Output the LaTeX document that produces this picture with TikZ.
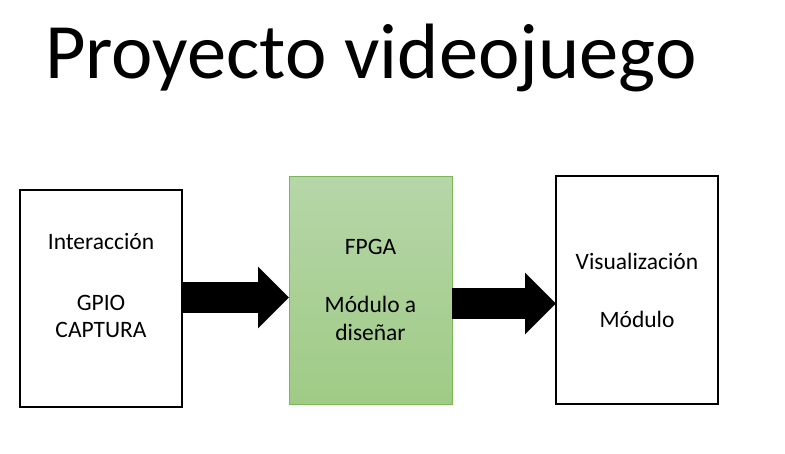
\documentclass[tikz,border=0pt]{standalone}
\usepackage{fontspec}
\setmainfont{Carlito}
\usetikzlibrary{arrows.meta}
\definecolor{greenborder}{HTML}{7CB65A}
\definecolor{greentop}{HTML}{B6D6A8}
\definecolor{greenbot}{HTML}{9FCB86}
\tikzset{
  plainbox/.style={draw=black, line width=2pt, fill=white, inner sep=0pt, outer sep=0pt},
  greenbox/.style={draw=greenborder, line width=1pt, top color=greentop, bottom color=greenbot, inner sep=0pt, outer sep=0pt},
  boxtext/.style={anchor=base, font=\fontsize{23.5}{28}\selectfont, inner sep=0pt},
  bigarrow/.style={line width=31pt, -{Triangle[length=31pt, width=60pt]}}
}
\begin{document}
\begin{tikzpicture}[x=1pt, y=-1pt]
\useasboundingbox (0,0) rectangle (785,453);
\fill[white] (0,0) rectangle (785,453);
\node[anchor=base west, inner sep=0pt, font=\fontsize{78.5}{82}\selectfont] (title) at (45,78) {Proyecto videojuego};
% boxes
\node[plainbox, minimum width=162pt, minimum height=217pt] (b1) at (101,298.5) {};
\node[greenbox, minimum width=163pt, minimum height=228pt] (b2) at (370.5,290) {};
\node[plainbox, minimum width=162pt, minimum height=228pt] (b3) at (637,290) {};
% texts
\node[boxtext] (t1a) at (101,249) {Interacción};
\node[boxtext] (t1b) at (101,310) {GPIO};
\node[boxtext] (t1c) at (101,337) {CAPTURA};
\node[boxtext] (t2a) at (370.5,254) {FPGA};
\node[boxtext] (t2b) at (370.5,312) {Módulo a};
\node[boxtext] (t2c) at (370.5,340) {diseñar};
\node[boxtext] (t3a) at (637,269) {Visualización};
\node[boxtext] (t3b) at (637,327) {Módulo};
% arrows
\draw[bigarrow] (b1.east |- 0,297.5) -- (b2.west |- 0,297.5);
\draw[bigarrow] (b2.east |- 0,303.5) -- (b3.west |- 0,303.5);
\end{tikzpicture}
\end{document}
